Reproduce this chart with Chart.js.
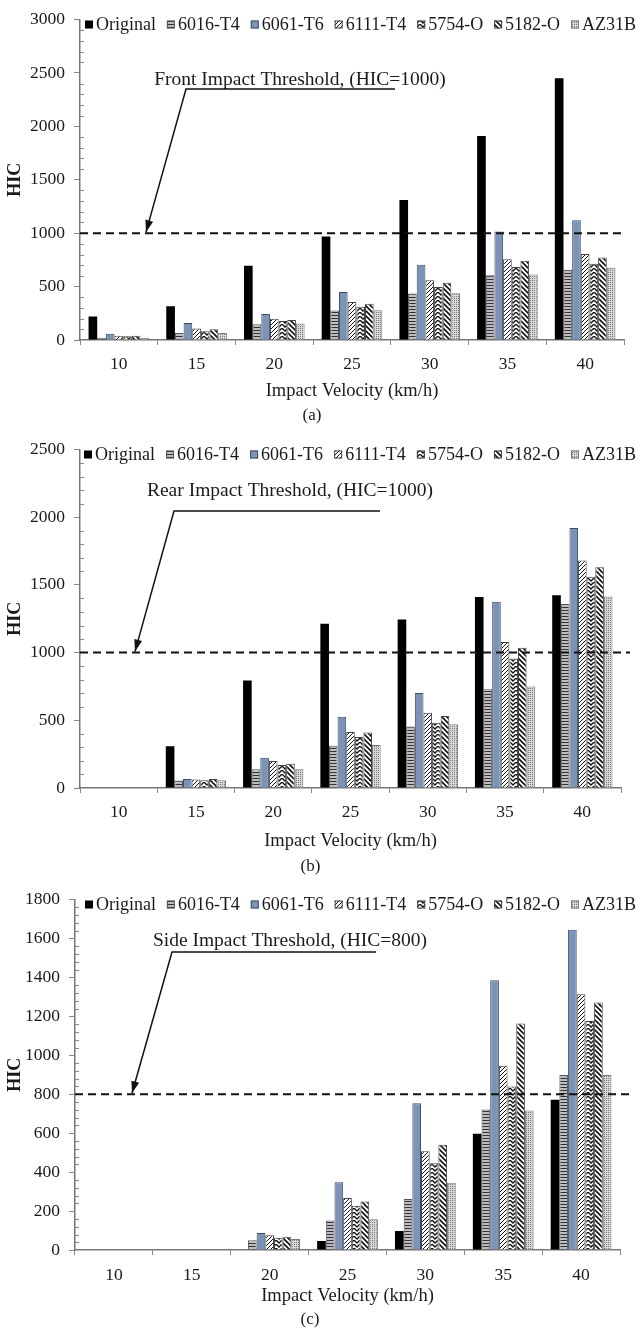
<!DOCTYPE html>
<html>
<head>
<meta charset="utf-8">
<script src="https://cdn.jsdelivr.net/npm/chart.js@4.4.0/dist/chart.umd.min.js"></script>
<style>
  html, body { margin: 0; padding: 0; background: #fff; }
  #wrap { position: relative; width: 638px; height: 1330px; }
  .panel { position: absolute; left: 0; width: 638px; }
</style>
</head>
<body>
<div id="wrap">
  <div class="panel" style="top:0;height:430px"><canvas id="chartA"></canvas></div>
  <div class="panel" style="top:430px;height:450px"><canvas id="chartB"></canvas></div>
  <div class="panel" style="top:880px;height:450px"><canvas id="chartC"></canvas></div>
</div>
<script>
var categories = ['10', '15', '20', '25', '30', '35', '40'];
var seriesNames = ['Original', '6016-T4', '6061-T6', '6111-T4', '5754-O', '5182-O', 'AZ31B'];

// (a) front impact
var frontOriginal = [220, 315, 694, 969, 1310, 1910, 2450];
var front6016 = [20, 65, 148, 275, 435, 605, 657];
var front6061 = [59, 160, 244, 450, 704, 1015, 1120];
var front6111 = [40, 108, 198, 355, 559, 755, 806];
var front5754 = [35, 83, 179, 312, 497, 684, 713];
var front5182 = [40, 100, 188, 340, 537, 742, 772];
var frontAZ31B = [20, 65, 154, 278, 438, 614, 676];

// (b) rear impact
var rearOriginal = [0, 309, 794, 1213, 1244, 1410, 1424];
var rear6016 = [0, 56, 139, 312, 455, 730, 1359];
var rear6061 = [0, 66, 224, 526, 701, 1376, 1920];
var rear6111 = [0, 63, 200, 414, 555, 1079, 1680];
var rear5754 = [0, 58, 170, 377, 482, 957, 1561];
var rear5182 = [0, 66, 180, 409, 531, 1035, 1631];
var rearAZ31B = [0, 58, 139, 317, 470, 750, 1415];

// (c) side impact
var sideOriginal = [0, 0, 0, 47, 98, 597, 772];
var side6016 = [0, 0, 50, 152, 262, 722, 899];
var side6061 = [0, 0, 88, 348, 754, 1385, 1645];
var side6111 = [0, 0, 76, 267, 507, 946, 1313];
var side5754 = [0, 0, 64, 228, 446, 840, 1176];
var side5182 = [0, 0, 68, 250, 541, 1163, 1271];
var sideAZ31B = [0, 0, 57, 159, 346, 717, 899];

var serif = '"Liberation Serif", "Times New Roman", serif';
Chart.defaults.font.family = serif;
Chart.defaults.color = '#1a1a1a';
Chart.defaults.animation = false;

function tile(w, h, paint) {
  var c = document.createElement('canvas');
  c.width = w; c.height = h;
  var g = c.getContext('2d');
  paint(g, w, h);
  return g.createPattern(c, 'repeat');
}

var fills = [
  '#000000',
  tile(1, 3, function (g) {
    g.fillStyle = '#bdbdbd'; g.fillRect(0, 0, 1, 3);
    g.fillStyle = '#333'; g.fillRect(0, 0, 1, 1);
  }),
  '#7b93b6',
  tile(4, 4, function (g) {
    g.fillStyle = '#fff'; g.fillRect(0, 0, 4, 4);
    g.fillStyle = '#111';
    g.fillRect(3, 0, 1, 1); g.fillRect(2, 1, 1, 1); g.fillRect(1, 2, 1, 1); g.fillRect(0, 3, 1, 1);
  }),
  tile(6, 4, function (g) {
    g.fillStyle = '#fff'; g.fillRect(0, 0, 6, 4);
    g.strokeStyle = '#111'; g.lineWidth = 1.3;
    g.beginPath(); g.moveTo(0, 0); g.lineTo(3, 3); g.lineTo(6, 0); g.stroke();
  }),
  tile(5, 5, function (g) {
    g.fillStyle = '#fff'; g.fillRect(0, 0, 5, 5);
    g.strokeStyle = '#111'; g.lineWidth = 1.6;
    g.beginPath(); g.moveTo(-1, -1); g.lineTo(6, 6); g.stroke();
    g.beginPath(); g.moveTo(-1, 4); g.lineTo(1, 6); g.stroke();
    g.beginPath(); g.moveTo(4, -1); g.lineTo(6, 1); g.stroke();
  }),
  tile(2, 2, function (g) {
    g.fillStyle = '#d8d8d8'; g.fillRect(0, 0, 2, 2);
    g.fillStyle = '#777'; g.fillRect(0, 0, 1, 1);
  })
];
var borders = ['#000', '#555', '#3d4f6b', '#444', '#444', '#444', '#777'];

var decorPlugin = {
  id: 'decor',
  afterDraw: function (chart, args, o) {
    var ctx = chart.ctx, area = chart.chartArea, y = chart.scales.y;
    ctx.save();

    // minor ticks on the value axis
    ctx.strokeStyle = '#888'; ctx.lineWidth = 1;
    for (var v = o.minor; v < y.max; v += o.minor) {
      if (v % o.major === 0) continue;
      var py = Math.round(y.getPixelForValue(v)) + 0.5;
      ctx.beginPath(); ctx.moveTo(area.left, py); ctx.lineTo(area.left + 4, py); ctx.stroke();
    }

    // threshold
    var ty = y.getPixelForValue(o.threshold);
    ctx.strokeStyle = '#111'; ctx.lineWidth = 2; ctx.setLineDash([8, 5]);
    ctx.beginPath(); ctx.moveTo(area.left, ty); ctx.lineTo(area.right + o.over, ty); ctx.stroke();
    ctx.setLineDash([]);

    // leader with arrow
    ctx.lineWidth = 1.5;
    ctx.beginPath();
    ctx.moveTo(o.x2, o.ly); ctx.lineTo(o.x1, o.ly); ctx.lineTo(o.tipX, ty - 1);
    ctx.stroke();
    var ang = Math.atan2(ty - 1 - o.ly, o.tipX - o.x1);
    ctx.fillStyle = '#111';
    ctx.beginPath();
    ctx.moveTo(o.tipX, ty - 1);
    ctx.lineTo(o.tipX - 12 * Math.cos(ang) + 4 * Math.sin(ang), ty - 1 - 12 * Math.sin(ang) - 4 * Math.cos(ang));
    ctx.lineTo(o.tipX - 12 * Math.cos(ang) - 4 * Math.sin(ang), ty - 1 - 12 * Math.sin(ang) + 4 * Math.cos(ang));
    ctx.closePath(); ctx.fill();

    ctx.font = '19.5px ' + serif;
    ctx.fillStyle = '#1a1a1a'; ctx.textAlign = 'center'; ctx.textBaseline = 'middle';
    ctx.fillText(o.text, o.tx, o.ty);

    // legend
    ctx.font = '18px ' + serif;
    ctx.textAlign = 'left';
    var sets = chart.data.datasets, box = 8, used = 0;
    sets.forEach(function (d) { used += box + 3 + ctx.measureText(d.label).width; });
    var gap = (o.legendEnd - o.legendX - used) / (sets.length - 1);
    var lx = o.legendX, lyc = area.top + 5;
    sets.forEach(function (d, i) {
      ctx.fillStyle = d.backgroundColor;
      ctx.fillRect(lx, lyc - box / 2, box, box);
      if (i > 0) {
        ctx.strokeStyle = d.borderColor; ctx.lineWidth = 1;
        ctx.strokeRect(lx + 0.5, lyc - box / 2 + 0.5, box - 1, box - 1);
      }
      ctx.fillStyle = '#1a1a1a';
      ctx.fillText(d.label, lx + box + 3, lyc + 1);
      lx += box + 3 + ctx.measureText(d.label).width + gap;
    });
    ctx.restore();
  }
};

function buildChart(id, series, p) {
  var datasets = series.map(function (vals, i) {
    return {
      label: seriesNames[i],
      data: vals,
      backgroundColor: fills[i],
      borderColor: borders[i],
      borderWidth: i === 0 ? 0 : 1,
      categoryPercentage: 0.78,
      barPercentage: 1.0
    };
  });
  return new Chart(document.getElementById(id), {
    type: 'bar',
    data: { labels: categories, datasets: datasets },
    plugins: [decorPlugin],
    options: {
      responsive: true,
      maintainAspectRatio: false,
      layout: { padding: p.padding },
      plugins: {
        legend: { display: false },
        tooltip: { enabled: false },
        title: {
          display: true, position: 'bottom', text: p.caption,
          font: { size: 17, weight: 'normal' }, color: '#1a1a1a',
          padding: { top: p.capTop, bottom: 0 }
        },
        decor: p.decor
      },
      scales: {
        x: {
          grid: { drawOnChartArea: false, drawTicks: true, tickLength: 5, color: '#888' },
          border: { color: '#777', width: 1.5 },
          ticks: { font: { size: 17.5 }, color: '#1a1a1a', padding: p.tickPad },
          title: { display: true, text: 'Impact Velocity (km/h)', font: { size: 18.5 }, color: '#1a1a1a', padding: 0 },
          afterFit: function (s) { s.height = p.xHeight; }
        },
        y: {
          min: 0, max: p.yMax,
          grid: { drawOnChartArea: false, drawTicks: true, tickLength: 6, color: '#888' },
          border: { color: '#777', width: 1.5 },
          ticks: {
            stepSize: p.step, font: { size: 17.5 }, color: '#1a1a1a', padding: 9,
            callback: function (v) { return String(v); }
          },
          title: { display: true, text: 'HIC', font: { size: 18, weight: 'bold' }, color: '#1a1a1a', padding: { top: 5 } },
          afterFit: function (s) { s.width = p.yWidth; }
        }
      }
    }
  });
}

buildChart('chartA',
  [frontOriginal, front6016, front6061, front6111, front5754, front5182, frontAZ31B],
  {
    padding: { top: 15, right: 14, bottom: 4.6, left: 0 },
    yMax: 3000, step: 500, yWidth: 80, xHeight: 62, tickPad: 9, capTop: 3, caption: '(a)',
    decor: {
      minor: 100, major: 500, threshold: 1000, over: 0,
      text: 'Front Impact Threshold, (HIC=1000)', tx: 300, ty: 80,
      x1: 186, x2: 395, ly: 89, tipX: 146,
      legendX: 85, legendEnd: 636
    }
  });

buildChart('chartB',
  [rearOriginal, rear6016, rear6061, rear6111, rear5754, rear5182, rearAZ31B],
  {
    padding: { top: 18, right: 17, bottom: 3.6, left: 0 },
    yMax: 2500, step: 500, yWidth: 80, xHeight: 64, tickPad: 9, capTop: 4, caption: '(b)',
    decor: {
      minor: 100, major: 500, threshold: 1000, over: 9,
      text: 'Rear Impact Threshold, (HIC=1000)', tx: 290, ty: 61,
      x1: 174, x2: 380, ly: 81, tipX: 135,
      legendX: 84, legendEnd: 636
    }
  });

buildChart('chartC',
  [sideOriginal, side6016, side6061, side6111, side5754, side5182, sideAZ31B],
  {
    padding: { top: 15, right: 18, bottom: 0, left: 0 },
    yMax: 1800, step: 200, yWidth: 75, xHeight: 57, tickPad: 10, capTop: 2.5, caption: '(c)',
    decor: {
      minor: 40, major: 200, threshold: 800, over: 10,
      text: 'Side Impact Threshold, (HIC=800)', tx: 290, ty: 61,
      x1: 172, x2: 376, ly: 72, tipX: 132,
      legendX: 85, legendEnd: 636
    }
  });
</script>
</body>
</html>
